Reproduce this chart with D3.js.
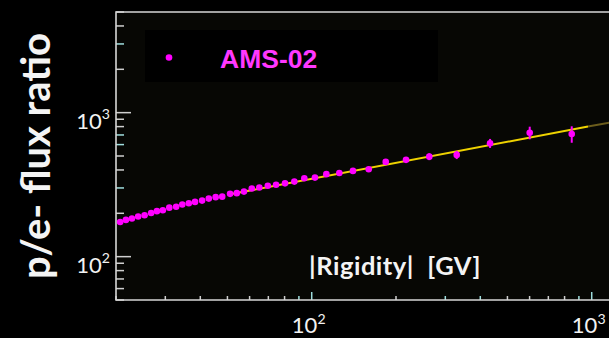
<!DOCTYPE html>
<html>
<head>
<meta charset="utf-8">
<script src="https://cdn.jsdelivr.net/npm/d3@7"></script>
<style>
  html, body { margin: 0; padding: 0; background: #000; }
  svg { display: block; }
</style>
</head>
<body>
<svg id="chart" width="609" height="338"></svg>
<script>
// AMS-02 proton / electron flux ratio versus |Rigidity|
const rigidity = [20.7, 21.7, 22.8, 24.0, 25.3, 26.7, 28.0, 29.4, 31.0, 32.8,
                  34.5, 36.4, 38.3, 40.6, 42.9, 45.4, 47.9, 51.1, 54.0, 57.3,
                  61.1, 65.0, 69.7, 74.6, 80.3, 86.7, 94.1, 102.7, 112.8, 125.5,
                  140.4, 159.8, 183.8, 217.2, 263.0, 329.5, 433.5, 600.6, 848.5];
const ratio = [174, 180, 184, 190, 194, 201, 207, 210, 219, 222,
               230, 235, 240, 245, 253, 259, 261, 273, 276, 283,
               297, 302, 311, 316, 323, 332, 350, 354, 374, 381,
               394, 405, 455, 470, 495, 509, 613, 726, 711];
const ratioErr = [0, 0, 0, 0, 0, 0, 0, 0, 0, 0,
                  0, 0, 0, 0, 0, 0, 0, 0, 0, 0,
                  0, 0, 0, 0, 0, 0, 0, 0, 0, 0,
                  0, 0, 15, 18, 27, 33, 44, 73, 93];

// power-law fit: fitted range, then its extrapolation
const fitRigidity = [51, 970];
const fitRatio = [271, 800];
const extRigidity = [970, 1200];
const extRatio = [800, 865];

const xDomain = [20, 1200];
const yDomain = [50, 5000];
const seriesName = "AMS-02";
const xTitle = "|Rigidity|  [GV]";
const yTitle = "p/e- flux ratio";

const svg = d3.select("#chart");
const W = 609, H = 338;

const left = 116;
const x = d3.scaleLog().domain(xDomain).range([left, left + 280 * Math.log10(xDomain[1] / xDomain[0])]);
const y = d3.scaleLog().domain(yDomain).range([300, 12]);

// backgrounds
svg.append("rect").attr("width", W).attr("height", H).attr("fill", "#000");
svg.append("rect")
  .attr("x", x.range()[0]).attr("y", y.range()[1])
  .attr("width", x.range()[1] - x.range()[0]).attr("height", y.range()[0] - y.range()[1])
  .attr("fill", "#070704");

// legend box
svg.append("rect").attr("x", 145).attr("y", 30).attr("width", 293).attr("height", 52).attr("fill", "#000");
svg.append("circle").attr("cx", 169).attr("cy", 57.5).attr("r", 3.3).attr("fill", "#ff00ff");
svg.append("text").attr("x", 220).attr("y", 67.5)
  .attr("font-family", "Liberation Sans, Arial, sans-serif").attr("font-weight", "bold")
  .attr("font-size", 26.5).attr("fill", "#ff38ff").text(seriesName);

const tickColor = "#cfcfcf";
const tint = "#9fdede";
const isMajor = v => Math.abs(Math.log10(v) - Math.round(Math.log10(v))) < 1e-6;

// y ticks (inside the frame, pointing right)
const yTicks = y.ticks();
const yTinted = [3000, 700, 600, 300];
svg.append("g").selectAll("line").data(yTicks).join("line")
  .attr("x1", x.range()[0]).attr("x2", d => x.range()[0] + (isMajor(d) ? 15 : 8))
  .attr("y1", d => y(d)).attr("y2", d => y(d))
  .attr("stroke", d => yTinted.includes(d) ? tint : tickColor).attr("stroke-width", 1.5);

// x ticks (inside the frame, pointing up)
const xTicks = x.ticks();
const xTinted = [90, 100, 300, 400, 900, 1000];
svg.append("g").selectAll("line").data(xTicks).join("line")
  .attr("x1", d => x(d)).attr("x2", d => x(d))
  .attr("y1", y.range()[0]).attr("y2", d => y.range()[0] - (isMajor(d) ? 8 : 4))
  .attr("stroke", d => xTinted.includes(d) ? tint : tickColor).attr("stroke-width", 1.5);

// frame
svg.append("path")
  .attr("d", `M${x.range()[1]},${y.range()[1]} H${x.range()[0]} V${y.range()[0]} H${x.range()[1]}`)
  .attr("fill", "none").attr("stroke", "#d6d6d6").attr("stroke-width", 1.6);

// power-of-ten labels
const labelFont = "Lato, 'Open Sans', sans-serif";
function powLabel(g, v, size) {
  const t = g.append("text").attr("font-family", labelFont).attr("fill", "#f2f2f2").attr("font-size", size);
  t.append("tspan").text("10");
  t.append("tspan").attr("font-size", size * 0.64).attr("dy", -size * 0.42).text(Math.round(Math.log10(v)));
  return t;
}
yTicks.filter(isMajor).forEach(v => {
  powLabel(svg, v, 22).attr("x", 110).attr("y", y(v) + 16).attr("text-anchor", "end");
});
xTicks.filter(isMajor).forEach(v => {
  powLabel(svg, v, 22).attr("x", x(v) - 3).attr("y", 333).attr("text-anchor", "middle");
});

// fit line
const line = d3.line().x(d => x(d[0])).y(d => y(d[1]));
svg.append("path").datum(d3.zip(fitRigidity, fitRatio)).attr("d", line)
  .attr("fill", "none").attr("stroke", "#eed200").attr("stroke-width", 2);
svg.append("path").datum(d3.zip(extRigidity, extRatio)).attr("d", line)
  .attr("fill", "none").attr("stroke", "#6c5d1c").attr("stroke-width", 2);

// data points with error bars
const pts = rigidity.map((r, i) => ({ r, v: ratio[i], e: ratioErr[i] }));
svg.append("g").selectAll("line").data(pts.filter(d => d.e > 0)).join("line")
  .attr("x1", d => x(d.r)).attr("x2", d => x(d.r))
  .attr("y1", d => y(d.v - d.e)).attr("y2", d => y(d.v + d.e))
  .attr("stroke", "#ff00ff").attr("stroke-width", 2);
svg.append("g").selectAll("circle").data(pts).join("circle")
  .attr("cx", d => x(d.r)).attr("cy", d => y(d.v)).attr("r", 3.3)
  .attr("fill", "#ff00ff");

// axis titles
svg.append("text").attr("x", 395).attr("y", 275).attr("text-anchor", "middle")
  .attr("font-family", labelFont).attr("font-weight", "bold").attr("font-size", 25.5)
  .attr("letter-spacing", 0.5)
  .attr("fill", "#f4f4f4").attr("xml:space", "preserve").style("white-space", "pre").text(xTitle);

svg.append("text").attr("transform", "translate(50,156) rotate(-90)")
  .attr("text-anchor", "middle")
  .attr("font-family", labelFont).attr("font-weight", "bold").attr("font-size", 40)
  .attr("fill", "#f4f4f4").text(yTitle);
</script>
</body>
</html>
